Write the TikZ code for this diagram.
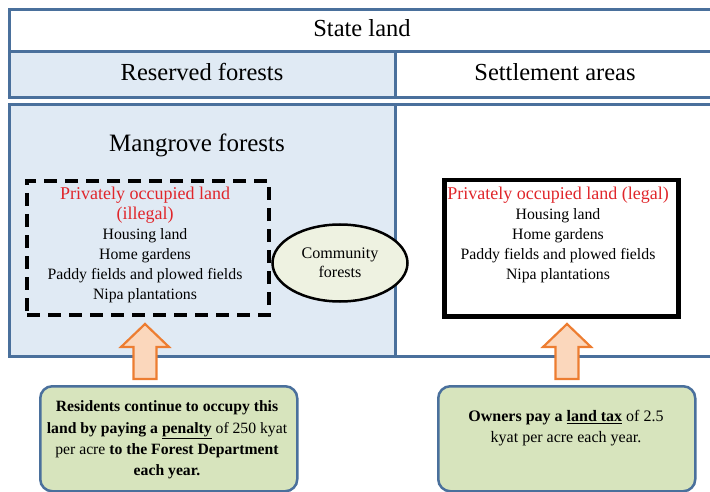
\documentclass[tikz,border=0pt]{standalone}
\usepackage{fontspec}
\setmainfont{Liberation Serif}
\usetikzlibrary{shapes.geometric}
\definecolor{frameblue}{HTML}{4A709C}
\definecolor{paleblue}{HTML}{E0EAF4}
\definecolor{palegreen}{HTML}{D7E4BD}
\definecolor{ellfill}{HTML}{EEF2E1}
\definecolor{arrfill}{HTML}{FBD7BC}
\definecolor{arrline}{HTML}{ED7D31}
\definecolor{redtext}{HTML}{E0262B}
\begin{document}
\begin{tikzpicture}[x=1pt,y=-1pt,
  cell/.style={draw=frameblue, line width=3pt, rectangle, inner sep=0pt, outer sep=0pt,
    anchor=north west, font=\fontsize{24.5}{28}\selectfont, text height=16pt, text depth=5pt},
  listtext/.style={align=center, inner sep=0pt, font=\fontsize{15.8}{20}\selectfont},
  upway/.style={draw=arrline, fill=arrfill, line width=2.2pt, line join=miter},
  gbox/.style={draw=frameblue, fill=palegreen, line width=2.5pt, rounded corners=12pt,
    minimum width=257pt, minimum height=105pt, anchor=north west, inner sep=0pt},
  notetext/.style={align=center, inner sep=0pt, font=\fontsize{15.7}{21.3}\selectfont}
]
\useasboundingbox (0,0) rectangle (710,492);
% top table
\node[cell, minimum width=706pt, minimum height=42pt] (state) at (9,10) {State land};
\node[cell, fill=paleblue, minimum width=386pt, minimum height=46pt] (reserved) at (9,52) {Reserved forests};
\node[cell, minimum width=320pt, minimum height=46pt] (settle) at (395,52) {Settlement areas};
% lower table
\node[cell, fill=paleblue, minimum width=386pt, minimum height=251pt] (mangbox) at (9,105) {};
\node[cell, minimum width=320pt, minimum height=251pt] (setbox) at (395,105) {};
\node[font=\fontsize{25}{28}\selectfont, inner sep=0pt] (mangrove) at (197,145) {Mangrove forests};
% illegal land
\node[draw=black, line width=4pt, dash pattern=on 13pt off 8pt, rectangle,
  minimum width=242pt, minimum height=134pt, anchor=north west, inner sep=0pt] (illbox) at (25,179) {};
\node[listtext] (illtext) at (145,245) {{\fontsize{18}{20}\selectfont\color{redtext}Privately occupied land}\\
  {\fontsize{18}{20}\selectfont\color{redtext}(illegal)}\\
  Housing land\\ Home gardens\\ Paddy fields and plowed fields\\ Nipa plantations};
% legal land
\node[draw=black, line width=4.5pt, rectangle, minimum width=234pt, minimum height=136pt,
  anchor=north west, inner sep=0pt] (legbox) at (442,178) {};
\node[listtext] (legtext) at (558,235) {{\fontsize{18}{20}\selectfont\color{redtext}Privately occupied land (legal)}\\
  Housing land\\ Home gardens\\ Paddy fields and plowed fields\\ Nipa plantations};
% community forests
\node[ellipse, draw=black, line width=2.5pt, fill=ellfill, minimum width=135pt,
  minimum height=77pt, inner sep=0pt, align=center, font=\fontsize{16.1}{19}\selectfont] (comm) at (340,263) {Community\\forests};
% notes
\node[gbox] (lnote) at (39,385) {};
\node[notetext] (ltext) at (167,440) {\textbf{Residents continue to occupy this}\\
  \textbf{land by paying a \underline{penalty}} of 250 kyat\\
  per acre \textbf{to the Forest Department}\\
  \textbf{each year.}};
\node[gbox] (rnote) at (437,385) {};
\node[notetext, font=\fontsize{16}{21}\selectfont] (rtext) at (566,428)
  {\textbf{Owners pay a \underline{land tax}} of 2.5\\ kyat per acre each year.};
% arrows (tips into the boxes above)
\coordinate (ltip) at (145,324);
\coordinate (rtip) at (567,324);
\draw[upway] (ltip) -- ++(24,23) -- ++(-12.5,0) -- ++(0,32) -- ++(-23,0) -- ++(0,-32) -- ++(-12.5,0) -- cycle;
\draw[upway] (rtip) -- ++(24,23) -- ++(-12.5,0) -- ++(0,32) -- ++(-23,0) -- ++(0,-32) -- ++(-12.5,0) -- cycle;
\end{tikzpicture}
\end{document}
